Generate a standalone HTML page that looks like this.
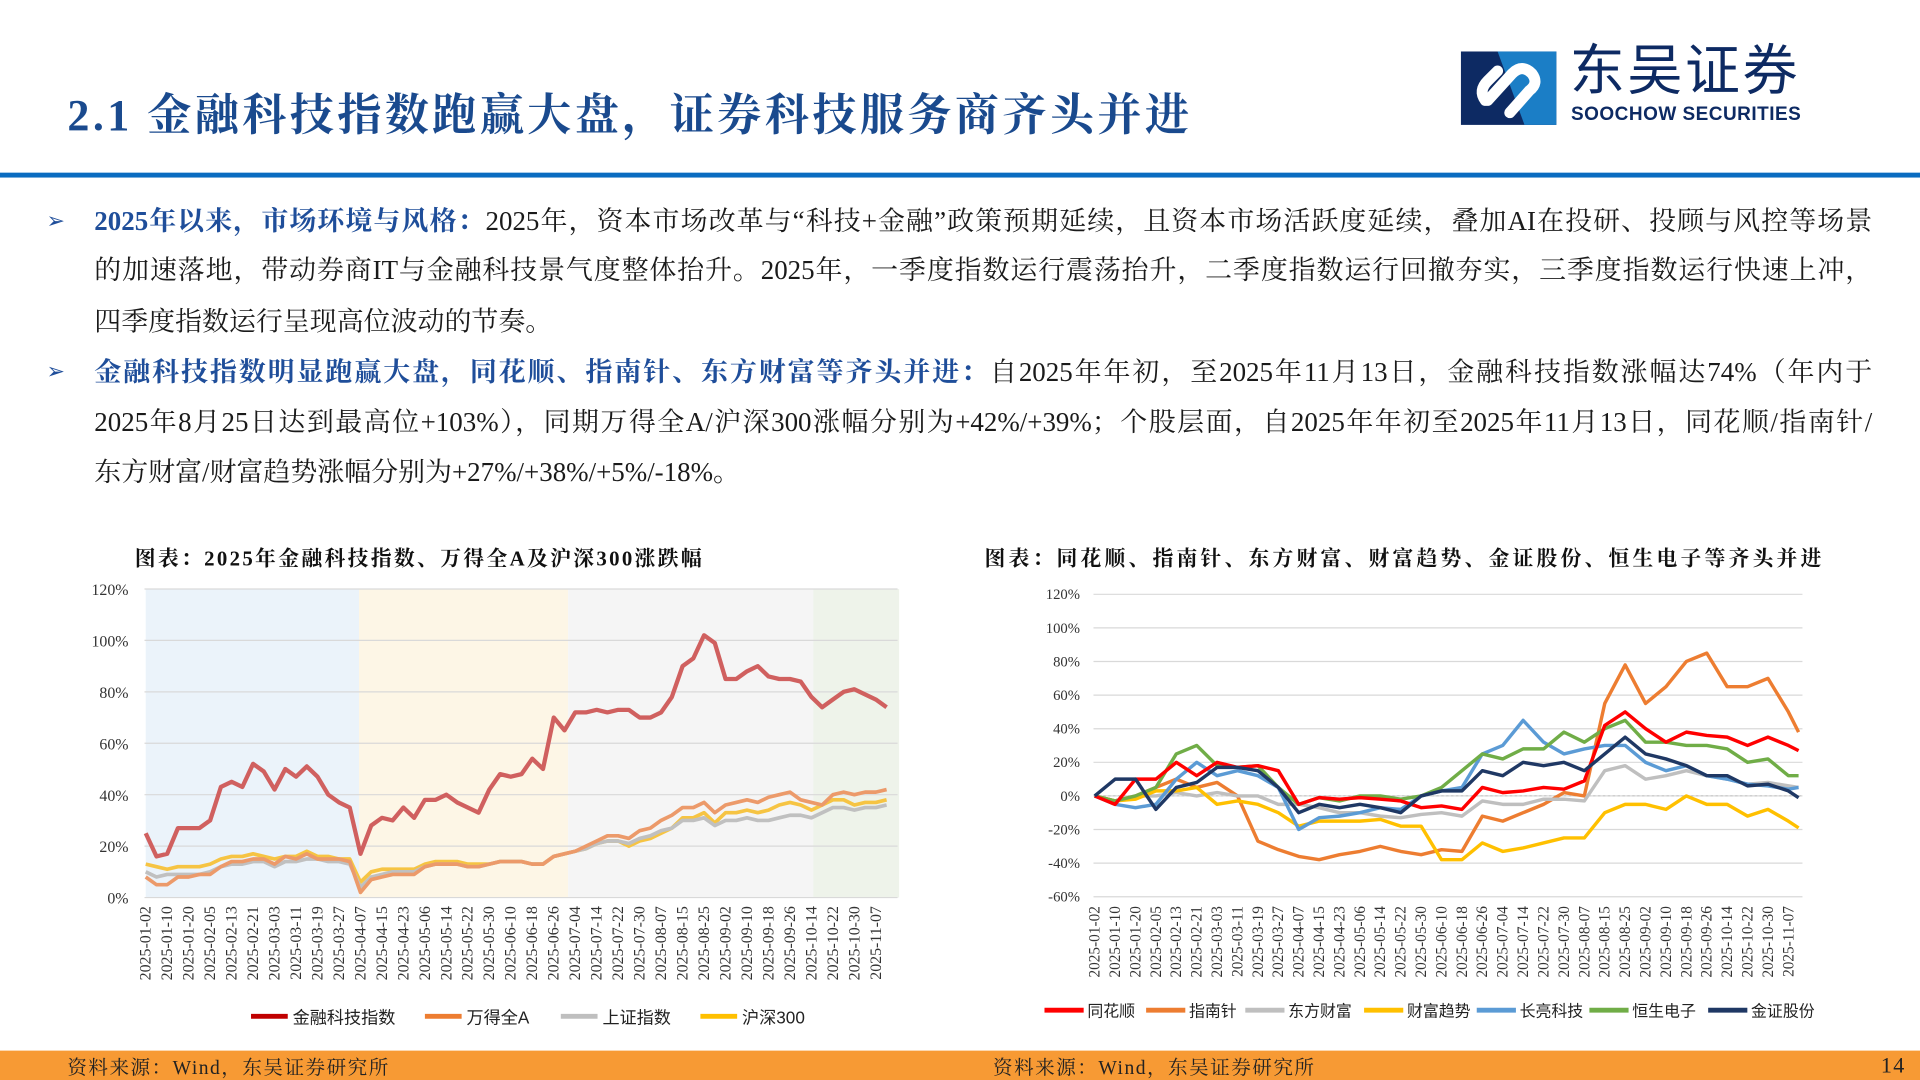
<!DOCTYPE html>
<html><head><meta charset="utf-8">
<style>
html,body{margin:0;padding:0;background:#fff;overflow:hidden;}
#wrap{position:absolute;left:0;top:0;width:1568px;height:882px;transform:scale(1.2244898);transform-origin:0 0;font-family:"Liberation Serif","Noto Serif CJK SC",serif;}
.abs{position:absolute;}
#title{left:55px;top:66px;font-size:36px;font-weight:bold;color:#1a4a8e;white-space:nowrap;letter-spacing:2.8px;}
#rule{left:0;top:141px;width:1568px;height:4px;background:#0a6cc0;}
.ln{position:absolute;left:77px;width:1452px;font-size:22px;line-height:30px;color:#1a1a1a;white-space:nowrap;}
.j{text-align:justify;text-align-last:justify;}
.ln b{color:#1f4e9a;}
.bul{position:absolute;left:38px;font-size:18px;color:#1f4e9a;}
.ctitle{font-size:17px;font-weight:bold;color:#111;white-space:nowrap;}
#footer{left:0;top:858px;width:1568px;height:24px;background:#f79a34;}
.src{font-size:16px;color:#222;top:859px;white-space:nowrap;letter-spacing:1.2px;}
</style></head><body>
<div id="wrap">
<div id="title" class="abs">2.1 金融科技指数跑赢大盘，证券科技服务商齐头并进</div>
<div class="abs" style="left:1193px;top:42px;width:80px;height:62px">
<svg width="80" height="62" viewBox="0 0 80 62"><rect x="0" y="0" width="78" height="60" fill="#0d2a63"/><path d="M30 0 H78 V60 H52 Z" fill="#1b7ec6"/><path d="M22 40 L42 18 Q50 10 58 18 Q64 26 56 32 L40 50" fill="none" stroke="#fff" stroke-width="9" stroke-linecap="round"/><path d="M20 40 Q14 32 22 24 L30 16" fill="none" stroke="#fff" stroke-width="9" stroke-linecap="round"/></svg></div>
<div class="abs" style="left:1282px;top:24px;font-size:45px;line-height:60px;color:#0d2a63;font-family:'Noto Sans CJK SC',sans-serif;white-space:nowrap;letter-spacing:2px">东吴证券</div>
<div class="abs" style="left:1283px;top:85px;font-size:15.5px;line-height:18px;font-weight:bold;color:#0d2a63;font-family:'Liberation Sans',sans-serif;white-space:nowrap;letter-spacing:0.4px">SOOCHOW SECURITIES</div>
<div id="rule" class="abs"></div>

<div class="bul" style="top:170px">➢</div>
<div>
<div class="ln j" style="top:166px"><b>2025年以来，市场环境与风格：</b>2025年，资本市场改革与“科技+金融”政策预期延续，且资本市场活跃度延续，叠加AI在投研、投顾与风控等场景</div>
<div class="ln j" style="top:206px">的加速落地，带动券商IT与金融科技景气度整体抬升。2025年，一季度指数运行震荡抬升，二季度指数运行回撤夯实，三季度指数运行快速上冲，</div>
<div class="ln" style="top:248px">四季度指数运行呈现高位波动的节奏。</div>
</div>
<div class="bul" style="top:293px">➢</div>
<div>
<div class="ln j" style="top:289px"><b>金融科技指数明显跑赢大盘，同花顺、指南针、东方财富等齐头并进：</b>自2025年年初，至2025年11月13日，金融科技指数涨幅达74%（年内于</div>
<div class="ln j" style="top:330px">2025年8月25日达到最高位+103%），同期万得全A/沪深300涨幅分别为+42%/+39%；个股层面，自2025年年初至2025年11月13日，同花顺/指南针/</div>
<div class="ln" style="top:371px">东方财富/财富趋势涨幅分别为+27%/+38%/+5%/-18%。</div>
</div>

<div class="abs ctitle" style="left:110px;top:442px;letter-spacing:1.9px">图表：2025年金融科技指数、万得全A及沪深300涨跌幅</div>
<div class="abs ctitle" style="left:804px;top:442px;letter-spacing:2.6px">图表：同花顺、指南针、东方财富、财富趋势、金证股份、恒生电子等齐头并进</div>

<svg id="chart" class="abs" style="left:0;top:0" width="1568" height="858"></svg>

<div id="footer" class="abs"></div>
<div class="abs src" style="left:55px">资料来源：Wind，东吴证券研究所</div>
<div class="abs src" style="left:811px">资料来源：Wind，东吴证券研究所</div>
<div class="abs src" style="left:1536px;font-size:18px;top:860px">14</div>
</div>
<script>
const dateLabels=["2025-01-02","2025-01-10","2025-01-20","2025-02-05","2025-02-13","2025-02-21","2025-03-03","2025-03-11","2025-03-19","2025-03-27","2025-04-07","2025-04-15","2025-04-23","2025-05-06","2025-05-14","2025-05-22","2025-05-30","2025-06-10","2025-06-18","2025-06-26","2025-07-04","2025-07-14","2025-07-22","2025-07-30","2025-08-07","2025-08-15","2025-08-25","2025-09-02","2025-09-10","2025-09-18","2025-09-26","2025-10-14","2025-10-22","2025-10-30","2025-11-07"];
const leftTicks=[0,20,40,60,80,100,120];
const rightTicks=[-60,-40,-20,0,20,40,60,80,100,120];
// left chart: one value every 3 trading days
const finTech=[25,16,17,27,27,27,30,43,45,43,52,49,42,50,47,51,47,40,37,35,17,28,31,30,35,31,38,38,40,37,35,33,42,48,47,48,54,50,70,65,72,72,73,72,73,73,70,70,72,78,90,93,102,99,85,85,88,90,86,85,85,84,78,74,77,80,81,79,77,74];
const windA=[8,5,5,8,8,9,9,12,14,14,15,15,13,16,15,17,15,15,15,14,2,7,8,9,9,9,12,13,13,13,12,12,13,14,14,14,13,13,16,17,18,20,22,24,24,23,26,27,30,32,35,35,37,33,36,37,38,37,39,40,41,38,37,36,40,41,40,41,41,42];
const shIdx=[10,8,9,9,9,9,10,12,13,13,14,14,12,14,14,15,15,14,14,13,4,8,9,10,10,10,12,13,13,13,12,12,13,14,14,14,13,13,16,17,18,19,21,22,22,21,23,24,26,27,30,30,31,28,30,30,31,30,30,31,32,32,31,33,35,35,34,35,35,36];
const hs300=[13,12,11,12,12,12,13,15,16,16,17,16,15,16,16,18,16,16,15,15,6,10,11,11,11,11,13,14,14,14,13,13,13,14,14,14,13,13,16,17,18,19,21,22,22,20,22,23,25,27,31,31,33,29,33,33,34,33,34,36,37,36,34,36,38,38,36,37,37,38];
// right chart: one value every 6 trading days (last = 11-13)
const ths=[0,-5,10,10,20,12,20,17,18,15,-5,-1,-2,-1,-2,-3,-7,-6,-8,5,2,3,5,4,9,42,50,40,32,38,36,35,30,35,30,27];
const znz=[0,-3,0,5,10,5,8,0,-27,-32,-36,-38,-35,-33,-30,-33,-35,-32,-33,-12,-15,-10,-5,2,0,55,78,55,65,80,85,65,65,70,50,38];
const dfcf=[0,-3,0,0,2,0,2,0,0,-5,-5,-7,-10,-10,-12,-13,-11,-10,-12,-3,-5,-5,-2,-2,-3,15,18,10,12,15,12,10,7,8,6,5];
const cfqs=[0,-3,-2,3,3,5,-5,-3,-5,-10,-18,-15,-15,-15,-14,-18,-18,-38,-38,-28,-33,-31,-28,-25,-25,-10,-5,-5,-8,0,-5,-5,-12,-8,-15,-19];
const clkj=[0,-5,-7,-5,10,20,12,15,12,5,-20,-13,-12,-10,-7,-8,0,3,5,25,30,45,32,25,28,30,30,20,15,18,12,10,7,6,4,5];
const hsdz=[0,-3,0,5,25,30,18,17,18,5,-5,-1,-3,0,0,-2,0,5,15,25,22,28,28,38,32,40,45,32,32,30,30,28,20,22,12,12];
const jzgf=[0,10,10,-8,5,8,17,17,15,5,-10,-5,-7,-5,-7,-10,0,3,3,15,12,20,18,20,15,25,35,25,22,18,12,12,6,7,3,-1];

const NS="http://www.w3.org/2000/svg";
const svg=document.getElementById('chart');
function mk(tag,attrs,parent){const e=document.createElementNS(NS,tag);for(const k in attrs)e.setAttribute(k,attrs[k]);(parent||svg).appendChild(e);return e;}
const L={x0:119,perDay:2.923,y0:733,perPct:2.1};
const R={x0:894,perDay:2.777,y0:650,perPct:1.372};
const lx=d=>L.x0+d*L.perDay, ly=v=>L.y0-v*L.perPct;
const rx=d=>R.x0+d*R.perDay, ry=v=>R.y0-v*R.perPct;
function dayOf(i,step,len){return i===len-1&&step===6?207:i*step;}

const bands=[[0,59.6,'#ebf3fa','band-q1'],[59.6,118,'#fdf6e6','band-q2'],[118,186.5,'#f5f5f5','band-q3'],[186.5,210.5,'#eef3ea','band-q4']];
bands.forEach(b=>{const r=mk('rect',{x:lx(b[0]),y:ly(120),width:lx(b[1])-lx(b[0]),height:ly(0)-ly(120),fill:b[2]});

});
leftTicks.forEach(t=>{const g=mk('line',{x1:118,x2:733,y1:ly(t),y2:ly(t),stroke:'#d9d9d9','stroke-width':1});


const tx=mk('text',{x:105,y:ly(t)+5,'text-anchor':'end','font-size':13,fill:'#333','font-family':'Liberation Serif'});tx.textContent=t+'%';

});
rightTicks.forEach(t=>{const g=mk('line',{x1:893,x2:1472,y1:ry(t),y2:ry(t),stroke:'#d9d9d9','stroke-width':1});


const tx=mk('text',{x:882,y:ry(t)+4,'text-anchor':'end','font-size':12,fill:'#333','font-family':'Liberation Serif'});tx.textContent=t+'%';

});
mk('line',{x1:893,x2:1472,y1:ry(0),y2:ry(0),stroke:'#c8c8c8','stroke-width':1,'stroke-dasharray':'2,2'});
dateLabels.forEach((d,i)=>{
 let x=lx(i*6)+4, y=740;
 const t=mk('text',{transform:`translate(${x},${y}) rotate(-90)`,'text-anchor':'end','font-size':13,fill:'#333','font-family':'Liberation Serif'});t.textContent=d;
 
 
 x=rx(i*6)+4;
 const t2=mk('text',{transform:`translate(${x},740) rotate(-90)`,'text-anchor':'end','font-size':12.5,fill:'#333','font-family':'Liberation Serif'});t2.textContent=d;
 
 
});
function line(arr,step,xf,yf,color,name,w){
 const pts=arr.map((v,i)=>xf(dayOf(i,step,arr.length))+','+yf(v).toFixed(1)).join(' ');
 const p=mk('polyline',{points:pts,fill:'none',stroke:color,'stroke-width':w,'stroke-linejoin':'round'});
 
 
}
line(hs300,3,lx,ly,'#f6c443','line-hs300',3);
line(shIdx,3,lx,ly,'#c0c0c0','line-sse-index',3);
line(windA,3,lx,ly,'#ec9a6a','line-wind-all-a',3);
line(finTech,3,lx,ly,'#d0605f','line-fintech-index',3.5);
line(znz,6,rx,ry,'#ed7d31','line-compass',2.8);
line(dfcf,6,rx,ry,'#bfbfbf','line-east-money',2.8);
line(cfqs,6,rx,ry,'#ffc000','line-wealth-trend',2.8);
line(clkj,6,rx,ry,'#5b9bd5','line-sunline',2.8);
line(hsdz,6,rx,ry,'#70ad47','line-hundsun',2.8);
line(ths,6,rx,ry,'#ff0000','line-tonghuashun',2.8);
line(jzgf,6,rx,ry,'#1f3864','line-kingdom',2.8);
const leftLegend=[['金融科技指数','#c00000',205],['万得全A','#ed7d31',347],['上证指数','#bfbfbf',458],['沪深300','#ffc000',572]];
leftLegend.forEach(l=>{const g=mk('g',{});


mk('line',{x1:l[2],x2:l[2]+30,y1:830,y2:830,stroke:l[1],'stroke-width':4},g);
const t=mk('text',{x:l[2]+34,y:836,'font-size':14,fill:'#222','font-family':'Liberation Sans, Noto Sans CJK SC, sans-serif'},g);t.textContent=l[0];});
const rightLegend=[['同花顺','#ff0000',853],['指南针','#ed7d31',936],['东方财富','#bfbfbf',1017],['财富趋势','#ffc000',1114],['长亮科技','#5b9bd5',1206],['恒生电子','#70ad47',1298],['金证股份','#1f3864',1395]];
rightLegend.forEach(l=>{const g=mk('g',{});


mk('line',{x1:l[2],x2:l[2]+32,y1:825,y2:825,stroke:l[1],'stroke-width':4},g);
const t=mk('text',{x:l[2]+35,y:830,'font-size':13,fill:'#222','font-family':'Liberation Sans, Noto Sans CJK SC, sans-serif'},g);t.textContent=l[0];});
</script>
</body></html>
